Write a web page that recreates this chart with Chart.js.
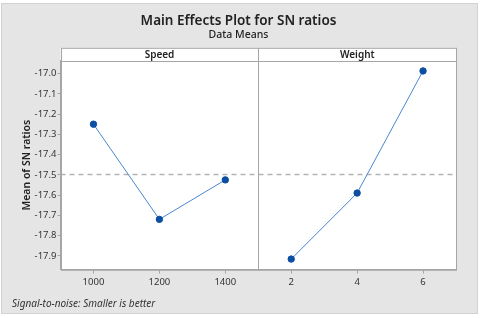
<!DOCTYPE html>
<html>
<head>
<meta charset="utf-8">
<script src="https://cdn.jsdelivr.net/npm/chart.js@4/dist/chart.umd.min.js"></script>
<style>
  body { margin: 0; background: #fff; }
  #wrap { width: 480px; height: 318px; }
</style>
</head>
<body>
<div id="wrap"><canvas id="myChart" width="480" height="318"></canvas></div>
<script>
// main effects data
const speedLevels = [1000, 1200, 1400];
const speedSN = [-17.25, -17.72, -17.525];
const weightLevels = [2, 4, 6];
const weightSN = [-17.916, -17.59, -16.987];
const yTicks = [-17.0, -17.1, -17.2, -17.3, -17.4, -17.5, -17.6, -17.7, -17.8, -17.9];
const panelNames = ['Speed', 'Weight'];

const allSN = speedSN.concat(weightSN);
const grandMean = allSN.reduce((a, b) => a + b, 0) / allSN.length;

const FONT = '"Noto Sans", "Open Sans", sans-serif';
const lineColor = '#4a88cf';
const markColor = '#0b4ea2';
const frameGray = '#a6a6a6';

const toPoints = (xs, ys) => xs.map((x, i) => ({x: x, y: ys[i]}));

// gray frame, strip headers, panel divider, mean line, footer note
const panelPlugin = {
    id: 'panels',
    beforeDraw(chart) {
        const ctx = chart.ctx;
        ctx.save();
        ctx.fillStyle = '#fff';
        ctx.fillRect(0, 0, chart.width, chart.height);
        ctx.fillStyle = '#e5e5e5';
        ctx.fillRect(2, 4, 475, 309);
        ctx.strokeStyle = '#d2d2d2';
        ctx.lineWidth = 1;
        ctx.strokeRect(1.5, 3.5, 476, 310);
        const a = chart.chartArea;
        ctx.fillStyle = '#fff';
        ctx.fillRect(a.left, a.top - 13, a.right - a.left, a.bottom - a.top + 13);
        ctx.restore();
    },
    beforeDatasetsDraw(chart) {
        const ctx = chart.ctx;
        const a = chart.chartArea;
        const y = Math.round(chart.scales.y.getPixelForValue(grandMean)) + 0.5;
        ctx.save();
        ctx.strokeStyle = '#b4b4b4';
        ctx.lineWidth = 1.3;
        ctx.setLineDash([5, 4]);
        ctx.beginPath();
        ctx.moveTo(a.left, y);
        ctx.lineTo(a.right, y);
        ctx.stroke();
        ctx.restore();
    },
    afterDraw(chart) {
        const ctx = chart.ctx;
        const a = chart.chartArea;
        const mid = Math.round(chart.scales.xs.right) + 0.5;
        const top = a.top - 13;
        ctx.save();
        ctx.strokeStyle = frameGray;
        ctx.lineWidth = 1;
        ctx.strokeRect(Math.round(a.left) + 0.5, top + 0.5, Math.round(a.right - a.left), Math.round(a.bottom - top));
        ctx.beginPath();
        ctx.moveTo(a.left, Math.round(a.top) + 0.5);
        ctx.lineTo(a.right, Math.round(a.top) + 0.5);
        ctx.moveTo(mid, top);
        ctx.lineTo(mid, a.bottom);
        ctx.stroke();
        ctx.fillStyle = '#222';
        ctx.font = '600 10px ' + FONT;
        ctx.textAlign = 'center';
        ctx.textBaseline = 'middle';
        ctx.fillText(panelNames[0], (a.left + mid) / 2, top + 7);
        ctx.fillText(panelNames[1], (mid + a.right) / 2, top + 7);
        ctx.textAlign = 'left';
        ctx.font = 'italic 10px ' + FONT;
        ctx.fillStyle = '#333';
        ctx.fillText('Signal-to-noise: Smaller is better', 12, 304);
        ctx.restore();
    }
};

const xAxis = (levels, min, max) => ({
    type: 'linear',
    position: 'bottom',
    stack: 'panels',
    stackWeight: 1,
    min: min,
    max: max,
    afterBuildTicks: s => { s.ticks = levels.map(v => ({value: v})); },
    grid: { drawOnChartArea: false, drawTicks: true, tickLength: 4, color: frameGray },
    border: { display: true, color: frameGray },
    ticks: { color: '#333', font: { family: FONT, size: 9.5 }, padding: 3, maxRotation: 0, callback: v => String(v) }
});

const lineSet = (pts, axis) => ({
    data: pts,
    xAxisID: axis,
    yAxisID: 'y',
    borderColor: lineColor,
    borderWidth: 1,
    pointBackgroundColor: markColor,
    pointBorderColor: markColor,
    pointRadius: 3.2,
    tension: 0
});

new Chart(document.getElementById('myChart'), {
    type: 'line',
    data: {
        datasets: [
            lineSet(toPoints(speedLevels, speedSN), 'xs'),
            lineSet(toPoints(weightLevels, weightSN), 'xw')
        ]
    },
    options: {
        responsive: false,
        animation: false,
        layout: { padding: { left: 21, right: 24, top: 0, bottom: 27 } },
        plugins: {
            legend: { display: false },
            tooltip: { enabled: false },
            title: {
                display: true,
                text: 'Main Effects Plot for SN ratios',
                color: '#222',
                font: { family: FONT, size: 13.5, weight: '600' },
                padding: { top: 13, bottom: 0 }
            },
            subtitle: {
                display: true,
                text: 'Data Means',
                color: '#222',
                font: { family: FONT, size: 10.5, weight: '500' },
                padding: { top: 0, bottom: 19 }
            }
        },
        scales: {
            xs: xAxis(speedLevels, 900, 1500),
            xw: xAxis(weightLevels, 1, 7),
            y: {
                type: 'linear',
                min: -17.968,
                max: -16.937,
                afterBuildTicks: s => { s.ticks = yTicks.map(v => ({value: v})); },
                grid: { drawOnChartArea: false, drawTicks: true, tickLength: 3, color: frameGray },
                border: { display: true, color: frameGray },
                ticks: {
                    color: '#333',
                    font: { family: FONT, size: 9.5 },
                    padding: 1,
                    callback: v => v.toFixed(1)
                },
                title: {
                    display: true,
                    text: 'Mean of SN ratios',
                    color: '#222',
                    font: { family: FONT, size: 10.5, weight: '600' },
                    padding: { top: 0, bottom: 0 }
                }
            }
        }
    },
    plugins: [panelPlugin]
});
</script>
</body>
</html>
